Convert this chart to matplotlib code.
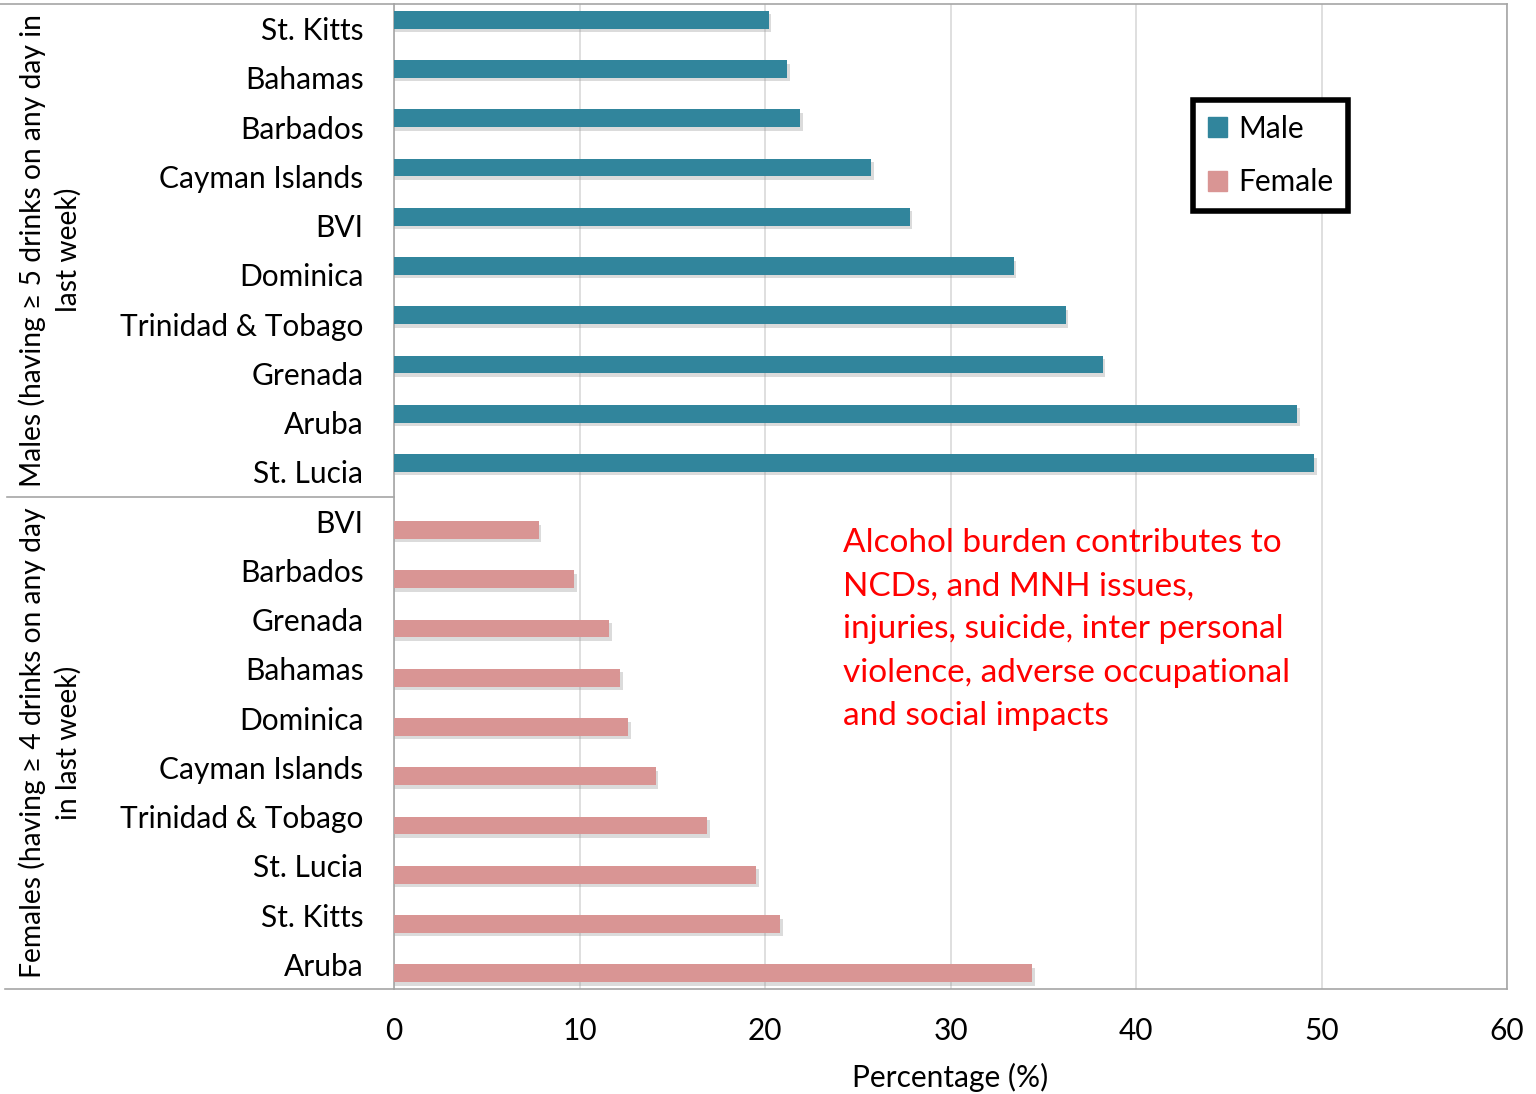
import matplotlib
matplotlib.use("Agg")
import matplotlib.pyplot as plt
import matplotlib.transforms as mtransforms
from matplotlib.lines import Line2D
from matplotlib.patches import Patch

plt.rcParams['font.family'] = ['Lato', 'DejaVu Sans']

male_countries = ["St. Kitts", "Bahamas", "Barbados", "Cayman Islands", "BVI",
                  "Dominica", "Trinidad & Tobago", "Grenada", "Aruba", "St. Lucia"]
male_values = [20.2, 21.2, 21.9, 25.7, 27.8, 33.4, 36.2, 38.2, 48.7, 49.6]

female_countries = ["BVI", "Barbados", "Grenada", "Bahamas", "Dominica",
                    "Cayman Islands", "Trinidad & Tobago", "St. Lucia", "St. Kitts", "Aruba"]
female_values = [7.8, 9.7, 11.6, 12.2, 12.6, 14.1, 16.9, 19.5, 20.8, 34.4]

male_group = "Males (having \u2265 5 drinks on any day in\nlast week)"
female_group = "Females (having \u2265 4 drinks on any day\nin last week)"
note = ("Alcohol burden contributes to\nNCDs, and MNH issues,\n"
        "injuries, suicide, inter personal\nviolence, adverse occupational\n"
        "and social impacts")

male_color = "#31859C"
female_color = "#D99594"
frame_color = "#A6A6A6"
fs = 21.5

fig = plt.figure(figsize=(15.36, 10.94), dpi=100)
ax = fig.add_axes([394/1536, 1-989/1094, (1507-394)/1536, (989-4)/1094])

n_m = len(male_values)
n_f = len(female_values)
ym = [i - 0.18 for i in range(n_m)]
yf = [n_m + i + 0.18 for i in range(n_f)]
h = 0.36

# soft shadow below the bars
ax.barh([y + 0.07 for y in ym], [v + 0.15 for v in male_values], height=h,
        color="#999999", alpha=0.35, zorder=2)
ax.barh([y + 0.07 for y in yf], [v + 0.15 for v in female_values], height=h,
        color="#999999", alpha=0.35, zorder=2)
ax.barh(ym, male_values, height=h, color=male_color, zorder=3)
ax.barh(yf, female_values, height=h, color=female_color, zorder=3)

ax.set_xlim(0, 60)
ax.set_ylim(n_m + n_f - 0.5, -0.5)
ax.set_xticks(range(0, 61, 10))
ax.set_yticks(range(n_m + n_f))
ax.set_yticklabels(male_countries + female_countries)
ax.tick_params(axis='y', length=0, pad=22, labelsize=fs)
ax.tick_params(axis='x', length=0, pad=20, labelsize=fs)
ax.xaxis.grid(True, color="#D9D9D9", linewidth=1.2, zorder=0)
ax.set_axisbelow(True)
for s in ax.spines.values():
    s.set_color(frame_color)
    s.set_linewidth(1.2)
ax.set_xlabel("Percentage (%)", fontsize=fs, labelpad=13)

# multi-level category frame
tr = mtransforms.blended_transform_factory(fig.transFigure, ax.transData)
fig.add_artist(Line2D([0.0, 394/1536], [-0.5, -0.5], transform=tr, color=frame_color, lw=1.2))
fig.add_artist(Line2D([7/1536, 394/1536], [n_m - 0.5, n_m - 0.5], transform=tr,
                      color=frame_color, lw=1.2))
fig.add_artist(Line2D([5/1536, 394/1536], [n_m + n_f - 0.5] * 2, transform=tr,
                      color=frame_color, lw=1.2))

fig.text(50/1536, (n_m - 1) / 2, male_group, transform=tr, rotation=90, ha='center',
         va='center', fontsize=20.3, multialignment='center', linespacing=1.4)
fig.text(50/1536, n_m + (n_f - 1) / 2, female_group, transform=tr, rotation=90, ha='center',
         va='center', fontsize=20.3, multialignment='center', linespacing=1.4)

handles = [Patch(color=male_color, label="Male"), Patch(color=female_color, label="Female")]
leg = ax.legend(handles=handles, loc='upper left', bbox_to_anchor=(1193/1536, 1-100/1094),
                bbox_transform=fig.transFigure, fontsize=fs, handlelength=0.65, handleheight=0.65,
                handletextpad=0.35, labelspacing=0.85, borderpad=0.5, borderaxespad=0,
                fancybox=False, framealpha=1)
leg.get_frame().set_edgecolor("black")
leg.get_frame().set_linewidth(4)

fig.text(843/1536, 1-528/1094, note, color="#FF0000", fontsize=24, ha='left', va='top',
         linespacing=1.55)

fig.savefig("out.png", dpi=100)
